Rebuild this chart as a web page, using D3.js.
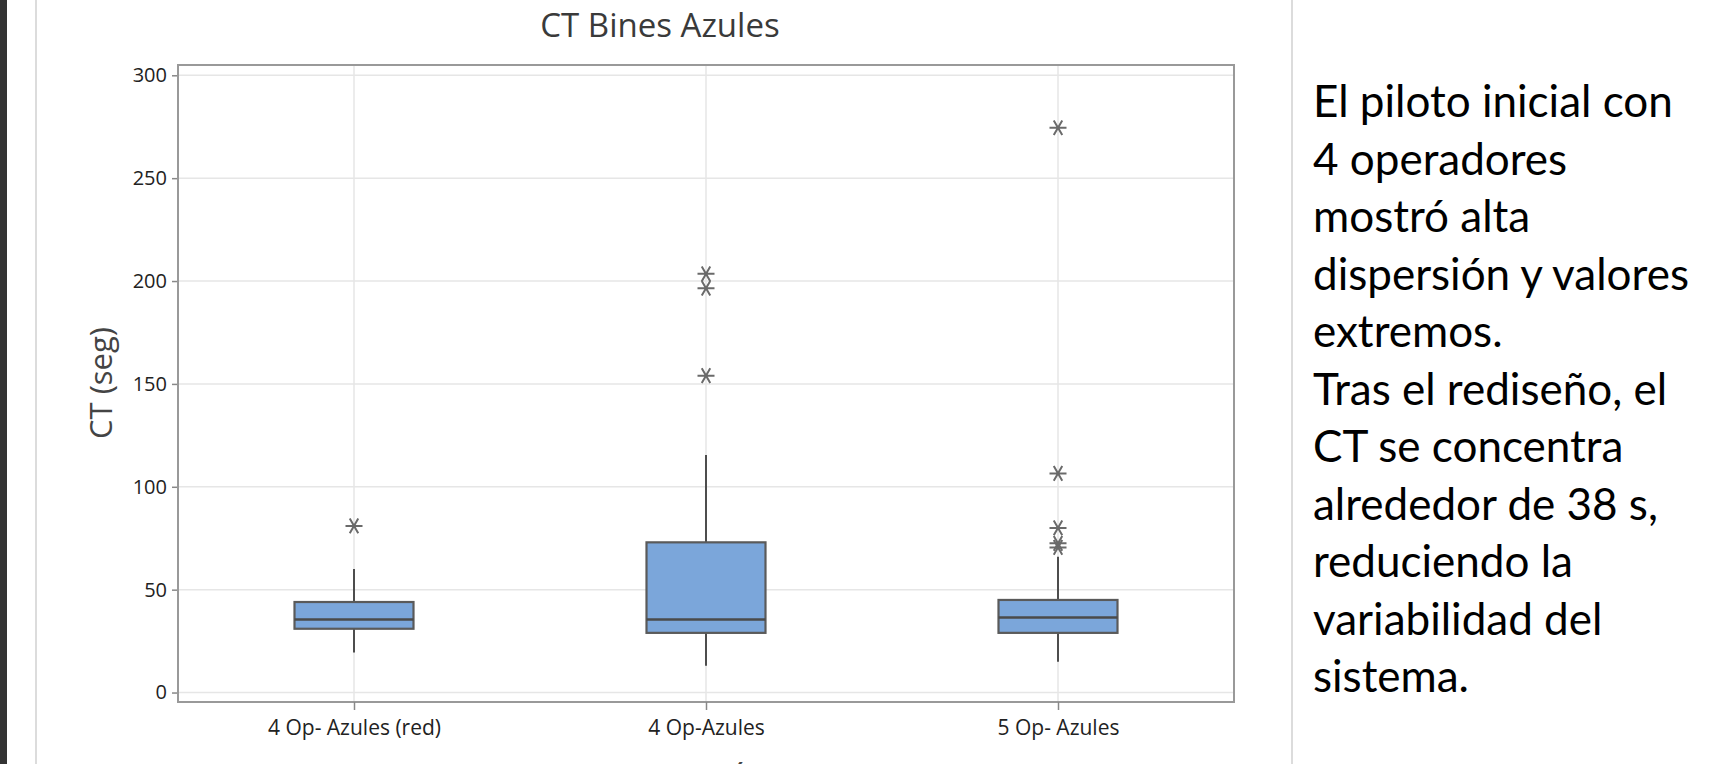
<!DOCTYPE html>
<html>
<head>
<meta charset="utf-8">
<script src="https://cdn.jsdelivr.net/npm/d3@7"></script>
<style>
  body { margin: 0; background: #fff; overflow: hidden; }
</style>
</head>
<body>
<div id="canvas"></div>
<script>
"use strict"

/* Data (CT in seconds) */
let groups = ["4 Op- Azules (red)", "4 Op-Azules", "5 Op- Azules"];
let whiskerLow = [19.5, 13, 15];
let q1 = [31, 29, 29];
let medians = [35.5, 35.5, 36.5];
let q3 = [44, 73, 45];
let whiskerHigh = [60, 115.5, 66];
let outliers = [[81], [154, 196.5, 203.5], [70.5, 72.5, 80, 106.5, 274.5]];
let yTicks = [0, 50, 100, 150, 200, 250, 300];

let noteLines = ["El piloto inicial con", "4 operadores", "mostró alta",
                 "dispersión y valores", "extremos.", "Tras el rediseño, el",
                 "CT se concentra", "alrededor de 38 s,", "reduciendo la",
                 "variabilidad del", "sistema."];

/* Drawing configuration */
let svgWidth = 1733;
let svgHeight = 764;
let plot = {left: 178, right: 1234, top: 65, bottom: 702};
let chartFont = "'Open Sans', 'Noto Sans', sans-serif";

let svg = d3.select("#canvas")
    .append("svg")
    .attr("width", svgWidth)
    .attr("height", svgHeight);

/* slide background bits */
svg.append("rect")
    .attr("x", 0).attr("y", 0)
    .attr("width", 7).attr("height", svgHeight)
    .attr("fill", "#333333");

svg.append("line")
    .attr("x1", 36).attr("x2", 36)
    .attr("y1", 0).attr("y2", svgHeight)
    .attr("stroke", "#dcdcdc").attr("stroke-width", 2);

svg.append("line")
    .attr("x1", 1292).attr("x2", 1292)
    .attr("y1", 0).attr("y2", svgHeight)
    .attr("stroke", "#dcdcdc").attr("stroke-width", 2);

/* scales */
let xScale = d3.scalePoint()
    .domain(groups)
    .range([plot.left, plot.right])
    .padding(0.5);

let yScale = d3.scaleLinear()
    .domain([-4.6, 305])
    .range([plot.bottom, plot.top]);

let boxWidth = 119;

/* gridlines */
svg.append("g")
    .selectAll("line")
    .data(yTicks)
    .join("line")
    .attr("x1", plot.left).attr("x2", plot.right)
    .attr("y1", d => yScale(d)).attr("y2", d => yScale(d))
    .attr("stroke", "#e6e6e6").attr("stroke-width", 1.5);

svg.append("g")
    .selectAll("line")
    .data(groups)
    .join("line")
    .attr("x1", d => xScale(d)).attr("x2", d => xScale(d))
    .attr("y1", plot.top).attr("y2", plot.bottom)
    .attr("stroke", "#e6e6e6").attr("stroke-width", 1.5);

/* boxes */
let boxes = svg.append("g")
    .selectAll("g")
    .data(groups)
    .join("g");

boxes.append("line")
    .attr("x1", d => xScale(d)).attr("x2", d => xScale(d))
    .attr("y1", (d, i) => yScale(whiskerLow[i]))
    .attr("y2", (d, i) => yScale(q1[i]))
    .attr("stroke", "#4d4d4d").attr("stroke-width", 2);

boxes.append("line")
    .attr("x1", d => xScale(d)).attr("x2", d => xScale(d))
    .attr("y1", (d, i) => yScale(q3[i]))
    .attr("y2", (d, i) => yScale(whiskerHigh[i]))
    .attr("stroke", "#4d4d4d").attr("stroke-width", 2);

boxes.append("rect")
    .attr("x", d => xScale(d) - boxWidth / 2)
    .attr("width", boxWidth)
    .attr("y", (d, i) => yScale(q3[i]))
    .attr("height", (d, i) => yScale(q1[i]) - yScale(q3[i]))
    .attr("fill", "#7ba6da")
    .attr("stroke", "#5a5a5a").attr("stroke-width", 2.2);

boxes.append("line")
    .attr("x1", d => xScale(d) - boxWidth / 2)
    .attr("x2", d => xScale(d) + boxWidth / 2)
    .attr("y1", (d, i) => yScale(medians[i]))
    .attr("y2", (d, i) => yScale(medians[i]))
    .attr("stroke", "#4a4a4a").attr("stroke-width", 2.4);

/* outliers drawn as six-armed asterisks */
let starPoints = [];
groups.forEach(function (g, i) {
    outliers[i].forEach(function (v) {
        starPoints.push({group: g, value: v});
    });
});

let starRadius = 8.5;
function starPath(cx, cy) {
    let p = "";
    [0, 60, 120].forEach(function (a) {
        let rad = a * Math.PI / 180;
        let dx = starRadius * Math.cos(rad);
        let dy = starRadius * Math.sin(rad);
        p += "M" + (cx - dx) + "," + (cy - dy) + "L" + (cx + dx) + "," + (cy + dy);
    });
    return p;
}

svg.append("g")
    .selectAll("path")
    .data(starPoints)
    .join("path")
    .attr("d", d => starPath(xScale(d.group), yScale(d.value)))
    .attr("stroke", "#6a6a6a")
    .attr("stroke-width", 2)
    .attr("fill", "none");

/* plot frame */
svg.append("rect")
    .attr("x", plot.left).attr("y", plot.top)
    .attr("width", plot.right - plot.left)
    .attr("height", plot.bottom - plot.top)
    .attr("fill", "none")
    .attr("stroke", "#999999")
    .attr("stroke-width", 2);

/* axes */
let yAxis = svg.append("g")
    .attr("transform", "translate(" + (plot.left - 1) + ",0)")
    .call(d3.axisLeft(yScale).tickValues(yTicks).tickSize(5).tickPadding(5));

let xAxis = svg.append("g")
    .attr("transform", "translate(0," + plot.bottom + ")")
    .call(d3.axisBottom(xScale).tickSize(8).tickPadding(6));

[yAxis, xAxis].forEach(function (ax) {
    ax.select(".domain").remove();
    ax.selectAll(".tick line").attr("stroke", "#888888").attr("stroke-width", 1.5);
    ax.selectAll(".tick text")
        .attr("fill", "#222222")
        .style("font-family", chartFont);
});

yAxis.selectAll(".tick text").style("font-size", "20px");

xAxis.selectAll(".tick text")
    .style("font-size", "21px")
    .attr("y", 33)
    .attr("dy", 0);

/* titles */
svg.append("text")
    .attr("x", 660)
    .attr("y", 37)
    .attr("text-anchor", "middle")
    .style("font-family", chartFont)
    .style("font-size", "33px")
    .attr("fill", "#3a3a3a")
    .text("CT Bines Azules");

svg.append("text")
    .attr("transform", "translate(112,383) rotate(-90)")
    .attr("text-anchor", "middle")
    .style("font-family", chartFont)
    .style("font-size", "31px")
    .attr("fill", "#444444")
    .text("CT (seg)");

svg.append("text")
    .attr("x", (plot.left + plot.right) / 2)
    .attr("y", 786)
    .attr("text-anchor", "middle")
    .style("font-family", chartFont)
    .style("font-size", "31px")
    .attr("fill", "#444444")
    .text("Estación");

/* side note */
svg.append("g")
    .selectAll("text")
    .data(noteLines)
    .join("text")
    .attr("x", 1313)
    .attr("y", (d, i) => 117 + i * 57.5)
    .style("font-family", "Lato, 'Noto Sans', sans-serif")
    .style("font-size", "44px")
    .attr("fill", "#000000")
    .text(d => d);
</script>
</body>
</html>
